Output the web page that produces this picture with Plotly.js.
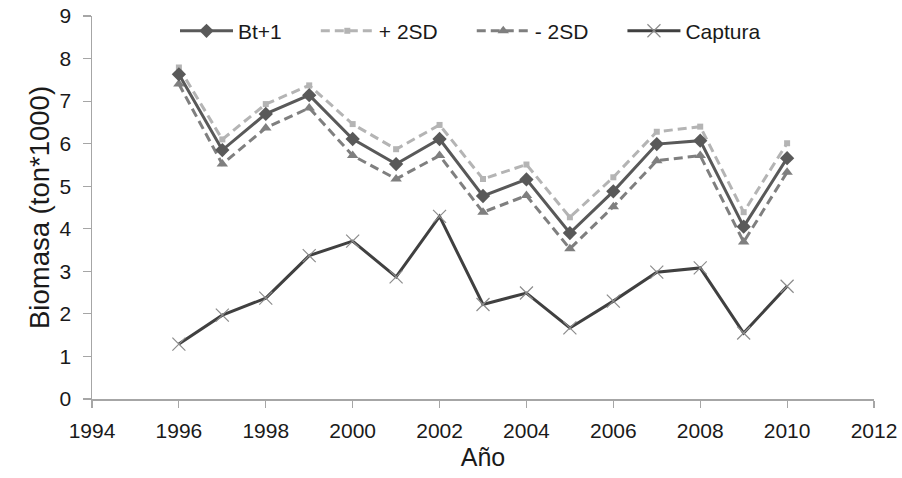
<!DOCTYPE html>
<html>
<head>
<meta charset="utf-8">
<script src="https://cdn.plot.ly/plotly-3.0.1.min.js"></script>
<style>html,body{margin:0;padding:0;background:#fff;}#chart{width:902px;height:478px;}</style>
</head>
<body>
<div id="chart"></div>
<script>
const years = [1996,1997,1998,1999,2000,2001,2002,2003,2004,2005,2006,2007,2008,2009,2010];
const btPlus1 = [7.63,5.85,6.70,7.14,6.11,5.52,6.11,4.77,5.16,3.90,4.88,5.99,6.07,4.05,5.66];
const plus2SD = [7.79,6.10,6.93,7.37,6.46,5.87,6.44,5.17,5.51,4.27,5.21,6.28,6.40,4.39,6.01];
const minus2SD = [7.40,5.52,6.37,6.84,5.72,5.17,5.72,4.39,4.78,3.53,4.52,5.60,5.72,3.69,5.33];
const captura = [1.29,1.97,2.37,3.37,3.71,2.87,4.29,2.22,2.49,1.67,2.30,2.98,3.08,1.55,2.65];
const seriesNames = ['Bt+1','+ 2SD','- 2SD','Captura'];
const xTitle = 'Año';
const yTitle = 'Biomasa (ton*1000)';

const FONT = '"Liberation Sans", Arial, sans-serif';
const TXT = '#1a1a1a';

const tBt = {x: years, y: btPlus1, name: seriesNames[0], mode: 'lines+markers', legendrank: 1,
   line: {color: '#595959', width: 3},
   marker: {symbol: 'diamond', size: 11, color: '#595959'}};
const tPlus = {x: years, y: plus2SD, name: seriesNames[1], mode: 'lines+markers', legendrank: 2,
   line: {color: '#b4b4b4', width: 3, dash: '9px,5px'},
   marker: {symbol: 'square', size: 6, color: '#b4b4b4'}};
const tMinus = {x: years, y: minus2SD, name: seriesNames[2], mode: 'lines+markers', legendrank: 3,
   line: {color: '#7f7f7f', width: 3, dash: '9px,5px'},
   marker: {symbol: 'triangle-up', size: 10, color: '#7f7f7f'}};
const tCap = {x: years, y: captura, name: seriesNames[3], mode: 'lines+markers', legendrank: 4,
   line: {color: '#404040', width: 3},
   marker: {symbol: 'x-thin-open', size: 13, color: '#8c8c8c', line: {width: 1.2, color: '#8c8c8c'}}};

const layout = {
  width: 902, height: 478,
  margin: {l: 92, r: 28, t: 15, b: 79},
  paper_bgcolor: '#fff', plot_bgcolor: '#fff',
  font: {family: FONT, size: 21, color: TXT},
  showlegend: true,
  legend: {orientation: 'h', x: 0.112, xanchor: 'left', y: 0.958, yanchor: 'middle',
           font: {family: FONT, size: 21, color: TXT}, bgcolor: 'rgba(0,0,0,0)'},
  xaxis: {range: [1994, 2012], dtick: 2, tick0: 1994, showgrid: false, zeroline: false,
          showline: true, linecolor: '#a6a6a6', linewidth: 1.5, ticks: 'outside', ticklen: 7,
          tickcolor: '#a6a6a6', tickwidth: 1.2, ticklabelstandoff: 5,
          tickfont: {family: FONT, size: 21, color: TXT},
          title: {text: xTitle, font: {family: FONT, size: 25, color: TXT}, standoff: 8}},
  yaxis: {range: [0, 9], dtick: 1, showgrid: false, zeroline: false,
          showline: true, linecolor: '#a6a6a6', linewidth: 1.5, ticks: 'outside', ticklen: 8,
          tickcolor: '#a6a6a6', tickwidth: 1.2, ticklabelstandoff: 7,
          tickfont: {family: FONT, size: 21, color: TXT},
          title: {text: yTitle, font: {family: FONT, size: 27.5, color: TXT}, standoff: 2}}
};

const gd = document.getElementById('chart');
Plotly.newPlot(gd, [tPlus, tMinus, tBt, tCap], layout, {displayModeBar: false, staticPlot: true}).then(() => {
  // Excel-style legend entries: long symbol line, text right after it
  const LINE = 53, TEXT_X = 58, GAP = 39, START = 180;
  const legend = gd.querySelector('.legend');
  if (!legend) return;
  legend.removeAttribute('clip-path');
  legend.querySelectorAll('[clip-path]').forEach(e => e.removeAttribute('clip-path'));
  const items = Array.from(legend.querySelectorAll('.traces'));
  let x = 0;
  items.forEach(g => {
    const m = /translate\(\s*([-\d.]+)[ ,]+([-\d.]+)/.exec(g.getAttribute('transform') || '');
    const y = m ? parseFloat(m[2]) : 0;
    g.setAttribute('transform', 'translate(' + x + ',' + y + ')');
    g.querySelectorAll('.legendlines path').forEach(p => p.setAttribute('d', 'M0,0h' + LINE));
    g.querySelectorAll('.legendpoints path').forEach(p => p.setAttribute('transform', 'translate(' + (LINE / 2) + ',0)'));
    const t = g.querySelector('text.legendtext');
    t.setAttribute('x', TEXT_X);
    x += TEXT_X + t.getComputedTextLength() + GAP;
  });
  if (items.length) {
    const first = items[0].querySelector('.legendlines path');
    const dx = START - first.getBoundingClientRect().left;
    items.forEach(g => {
      const m = /translate\(\s*([-\d.]+)[ ,]+([-\d.]+)/.exec(g.getAttribute('transform'));
      g.setAttribute('transform', 'translate(' + (parseFloat(m[1]) + dx) + ',' + m[2] + ')');
    });
  }
});
</script>
</body>
</html>
